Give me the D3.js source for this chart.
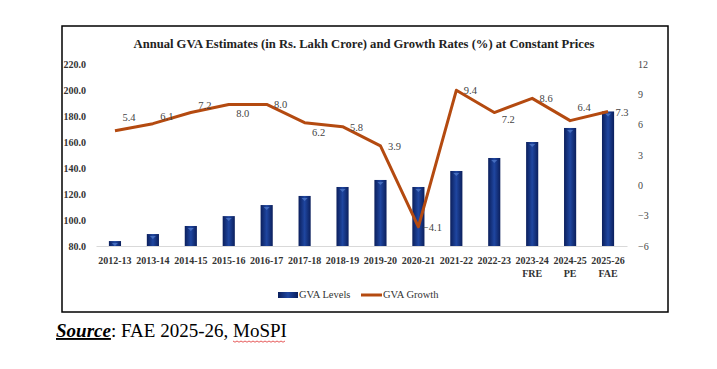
<!DOCTYPE html>
<html>
<head>
<meta charset="utf-8">
<script src="https://cdn.jsdelivr.net/npm/d3@7"></script>
<style>
  body { margin: 0; background: #fff; }
  svg { display: block; }
</style>
</head>
<body>
<svg id="chart" width="717" height="369"></svg>
<script>
const years = ['2012-13', '2013-14', '2014-15', '2015-16', '2016-17', '2017-18', '2018-19',
    '2019-20', '2020-21', '2021-22', '2022-23', '2023-24', '2024-25', '2025-26'];
const yearNotes = ['', '', '', '', '', '', '', '', '', '', '', 'FRE', 'PE', 'FAE'];
const gvaLevels = [83.8, 89.2, 95.4, 103.0, 111.5, 118.5, 125.4, 130.8, 125.4, 137.7, 147.7, 160.0, 170.8, 183.5];
const gvaGrowth = [5.4, 6.1, 7.2, 8.0, 8.0, 6.2, 5.8, 3.9, -4.1, 9.4, 7.2, 8.6, 6.4, 7.3];
const growthLabelPos = ['above', 'nearAbove', 'nearAbove', 'below', 'right', 'below', 'right',
    'right', 'right', 'right', 'nearBelow', 'right', 'above', 'right'];
const leftTicks = [80, 100, 120, 140, 160, 180, 200, 220];
const rightTicks = [-6, -3, 0, 3, 6, 9, 12];

const serif = '"Liberation Serif", "DejaVu Serif", serif';
const plot = { left: 96, right: 627, top: 64, bottom: 246 };
const lineColor = '#b44a10';

const svg = d3.select('#chart');

// Outer frame
svg.append('rect')
    .attr('x', 62).attr('y', 26)
    .attr('width', 606).attr('height', 286)
    .attr('fill', 'none')
    .attr('stroke', '#000')
    .attr('stroke-width', 1.5);

svg.append('text')
    .attr('x', 364).attr('y', 48)
    .attr('text-anchor', 'middle')
    .attr('font-family', serif)
    .attr('font-weight', 'bold')
    .attr('font-size', 12.6)
    .attr('fill', '#222')
    .text('Annual GVA Estimates (in Rs. Lakh Crore) and Growth Rates (%) at Constant Prices');

const xScale = d3.scaleBand().domain(years).range([plot.left, plot.right]).padding(0);
const yLeft = d3.scaleLinear().domain([80, 220]).range([plot.bottom, plot.top]);
const yRight = d3.scaleLinear().domain([-6, 12]).range([plot.bottom, plot.top]);
const cx = (i) => xScale(years[i]) + xScale.bandwidth() / 2;

// Bar gradient
const defs = svg.append('defs');
const grad = defs.append('linearGradient').attr('id', 'barGrad')
    .attr('x1', '0%').attr('x2', '100%').attr('y1', '0%').attr('y2', '0%');
grad.append('stop').attr('offset', '0%').attr('stop-color', '#0b1f5c');
grad.append('stop').attr('offset', '50%').attr('stop-color', '#1f46a0');
grad.append('stop').attr('offset', '100%').attr('stop-color', '#0b1f5c');

// Left axis
const leftAxis = svg.append('g')
    .attr('transform', `translate(${plot.left - 7},0)`)
    .call(d3.axisLeft(yLeft).tickValues(leftTicks).tickSize(0).tickFormat(d3.format('.1f')));
leftAxis.select('.domain').remove();
leftAxis.selectAll('text')
    .attr('font-family', serif)
    .attr('font-size', 10)
    .attr('font-weight', 'bold')
    .attr('fill', '#333');

// Right axis
const rightAxis = svg.append('g')
    .attr('transform', `translate(${plot.right + 8},0)`)
    .call(d3.axisRight(yRight).tickValues(rightTicks).tickSize(0).tickFormat(d3.format('d')));
rightAxis.select('.domain').remove();
rightAxis.selectAll('text')
    .attr('font-family', serif)
    .attr('font-size', 10)
    .attr('fill', '#444');

// Bars
const barW = xScale.bandwidth() * 0.32;
svg.append('g').selectAll('rect')
    .data(gvaLevels)
    .join('rect')
    .attr('x', (d, i) => cx(i) - barW / 2)
    .attr('y', (d) => yLeft(d))
    .attr('width', barW)
    .attr('height', (d) => yLeft(80) - yLeft(d))
    .attr('fill', 'url(#barGrad)');

// small highlight notch on bar tops
svg.append('g').selectAll('path')
    .data(gvaLevels)
    .join('path')
    .attr('d', (d, i) => {
        const y = yLeft(d) + 2;
        return `M${cx(i) - 3},${y}L${cx(i) + 3},${y}L${cx(i)},${y + 3}Z`;
    })
    .attr('fill', '#4f78c8')
    .attr('opacity', 0.8);

// X axis
const xAxis = svg.append('g')
    .attr('transform', `translate(0,${plot.bottom})`)
    .call(d3.axisBottom(xScale).tickSize(0).tickFormat(''));
xAxis.select('.domain').attr('stroke', '#d9d9d9').attr('stroke-width', 1);
xAxis.selectAll('.tick').each(function (d, i) {
    const t = d3.select(this).append('text')
        .attr('y', 18)
        .attr('text-anchor', 'middle')
        .attr('font-family', serif)
        .attr('font-size', 10)
        .attr('font-weight', 'bold')
        .attr('fill', '#333');
    t.append('tspan').attr('x', 0).text(d);
    if (yearNotes[i]) t.append('tspan').attr('x', 0).attr('dy', 13).text(yearNotes[i]);
});

// Growth line
const line = d3.line()
    .x((d, i) => cx(i))
    .y((d) => yRight(d));
svg.append('path')
    .attr('d', line(gvaGrowth))
    .attr('fill', 'none')
    .attr('stroke', lineColor)
    .attr('stroke-width', 3)
    .attr('stroke-linejoin', 'round');

// Growth labels (Excel "right" placement, nudged up/down)
const shiftY = { above: -14, nearAbove: -8, right: 0, nearBelow: 6, below: 9 };
svg.append('g').selectAll('text')
    .data(gvaGrowth)
    .join('text')
    .attr('x', (d, i) => cx(i) + 14)
    .attr('y', (d, i) => yRight(d) + shiftY[growthLabelPos[i]] + 4)
    .attr('text-anchor', 'middle')
    .attr('font-family', serif)
    .attr('font-size', 10.5)
    .attr('fill', '#444')
    .text((d) => d3.format('.1f')(d));

// Legend
const legend = svg.append('g').attr('font-family', serif).attr('font-size', 10.5).attr('fill', '#333');
legend.append('rect').attr('x', 278).attr('y', 292).attr('width', 20).attr('height', 6).attr('fill', 'url(#barGrad)');
legend.append('text').attr('x', 299).attr('y', 298).text('GVA Levels');
legend.append('line').attr('x1', 361).attr('x2', 382).attr('y1', 295).attr('y2', 295)
    .attr('stroke', lineColor).attr('stroke-width', 3);
legend.append('text').attr('x', 383).attr('y', 298).text('GVA Growth');

// Source note
const src = svg.append('text')
    .attr('x', 56).attr('y', 337)
    .attr('font-family', '"Liberation Serif", serif')
    .attr('font-size', 19)
    .attr('fill', '#000');
src.append('tspan').attr('font-weight', 'bold').attr('font-style', 'italic')
    .attr('text-decoration', 'underline').text('Source');
src.append('tspan').text(': FAE 2025-26, ');
src.append('tspan').attr('id', 'mospi').text('MoSPI');

// spell-check squiggle under MoSPI
const mb = document.getElementById('mospi').getBBox();
const squiggle = d3.range(0, Math.floor(mb.width / 2) + 1).map((k) => [mb.x + k * 2, 341 + (k % 2 ? 1.2 : 0)]);
svg.append('path')
    .attr('d', d3.line()(squiggle))
    .attr('fill', 'none')
    .attr('stroke', '#e03030')
    .attr('stroke-width', 0.8);
</script>
</body>
</html>
